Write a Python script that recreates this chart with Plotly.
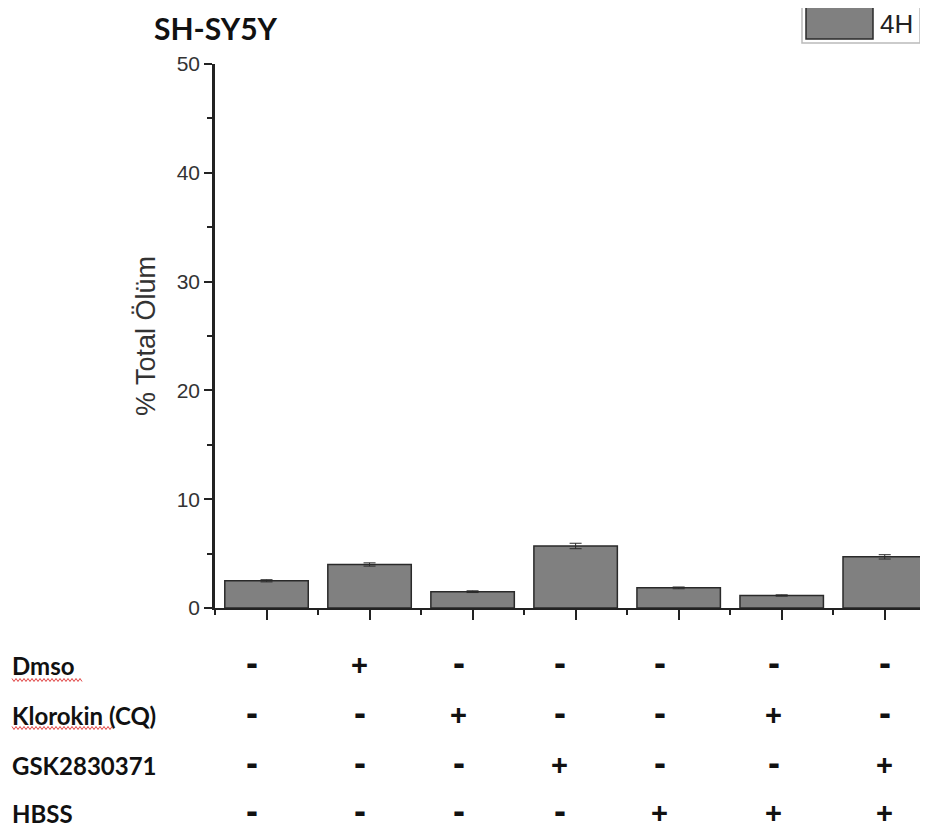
import plotly.graph_objects as go

# ---- data ----
categories = [0, 1, 2, 3, 4, 5, 6]
values_4h = [2.5, 4.0, 1.5, 5.7, 1.85, 1.15, 4.7]
errors_4h = [0.10, 0.15, 0.08, 0.25, 0.08, 0.06, 0.20]
series_name = "4H"
row_labels = ["Dmso", "Klorokin (CQ)", "GSK2830371", "HBSS"]
treatments = [
    ["-", "+", "-", "-", "-", "-", "-"],
    ["-", "-", "+", "-", "-", "+", "-"],
    ["-", "-", "-", "+", "-", "-", "+"],
    ["-", "-", "-", "-", "+", "+", "+"],
]
y_ticks = [0, 10, 20, 30, 40, 50]

# ---- layout helpers (page pixel geometry; page body has an 8px margin) ----
OFF = 8
W, H = 928 - OFF, 830 - OFF
L, R, T = 215 - OFF, 0, 64 - OFF
B = H - (608 - OFF)
pw, ph = W - L - R, H - T - B


def px_x(p):
    return (p - OFF - L) / pw


def px_y(p):
    return (H - B - (p - OFF)) / ph


fig = go.Figure()
fig.add_trace(go.Bar(
    x=categories, y=values_4h, name=series_name, width=0.81,
    marker=dict(color="#808080", line=dict(color="#2a2a2a", width=1.5)),
    error_y=dict(type="data", array=errors_4h, visible=True,
                 color="#2a2a2a", thickness=1, width=6),
    showlegend=False,
))

fig.update_layout(
    width=W, height=H,
    margin=dict(l=L, r=R, t=T, b=B, pad=0),
    plot_bgcolor="white", paper_bgcolor="white",
    font=dict(family="Liberation Sans, Arial", color="#222"),
)
fig.update_xaxes(
    range=[-0.5, 6.42], tickvals=categories, ticktext=[""] * len(categories),
    ticks="outside", ticklen=10, tickwidth=2, tickcolor="#222",
    showline=True, linecolor="#222", linewidth=2, showgrid=False, zeroline=False,
    minor=dict(ticks="outside", tick0=0.5, dtick=1, ticklen=5, tickwidth=2, tickcolor="#222"),
)
fig.update_yaxes(
    range=[0, 50], tickvals=y_ticks,
    ticks="outside", ticklen=8, tickwidth=1.5, tickcolor="#222",
    tickfont=dict(size=21, color="#333"),
    showline=True, linecolor="#222", linewidth=2.5, showgrid=False, zeroline=False,
    minor=dict(ticks="outside", dtick=5, ticklen=5, tickwidth=1.5, tickcolor="#222"),
    title=dict(text="% Total Ölüm", font=dict(size=27, color="#333"), standoff=14),
)

# title
fig.add_annotation(text="<b>SH-SY5Y</b>", xref="paper", yref="paper",
                   x=px_x(152), y=px_y(28), xanchor="left", yanchor="middle",
                   showarrow=False, font=dict(family="Lato", size=30, color="#111"))

# legend (drawn box)
fig.add_shape(type="rect", xref="paper", yref="paper",
              x0=px_x(802), x1=px_x(920), y0=px_y(43), y1=px_y(4),
              line=dict(color="#bbbbbb", width=1.5), fillcolor="white")
fig.add_shape(type="rect", xref="paper", yref="paper",
              x0=px_x(806), x1=px_x(873), y0=px_y(39), y1=px_y(7),
              line=dict(color="#2a2a2a", width=1.5), fillcolor="#808080")
fig.add_annotation(text=series_name, xref="paper", yref="paper",
                   x=px_x(878), y=px_y(24), xanchor="left", yanchor="middle",
                   showarrow=False, font=dict(family="Liberation Sans, Arial", size=26, color="#222"))

# treatment table
row_py = [665, 715, 765, 813]
col_shift = [-15, -10, -14, -16, -19, -8, 0]
for r, (lab, signs) in enumerate(zip(row_labels, treatments)):
    fig.add_annotation(text=f"<b>{lab}</b>", xref="paper", yref="paper",
                       x=px_x(10), y=px_y(row_py[r]), xanchor="left", yanchor="middle",
                       showarrow=False, font=dict(family="Lato", size=24, color="#111"))
    for c, s in zip(categories, signs):
        fig.add_annotation(text=f"<b>{s}</b>", xref="x", yref="paper",
                           x=c, y=px_y(row_py[r]), xanchor="center", yanchor="middle",
                           xshift=col_shift[c], yshift=(3 if s == "-" else 0),
                           showarrow=False,
                           font=dict(family="Liberation Sans, Arial",
                                     size=(36 if s == "-" else 29), color="#111"))


# spell-check squiggles under the first two row labels
def squiggle(x0, x1, y):
    pts = []
    x, up = x0, True
    while x <= x1:
        pts.append((px_x(x), px_y(y - 1.5 if up else y + 1.5)))
        x += 2
        up = not up
    return "M " + " L ".join(f"{a:.5f},{b:.5f}" for a, b in pts)


for (sx0, sx1, sy) in [(12, 82, 680), (12, 112, 728)]:
    fig.add_shape(type="path", xref="paper", yref="paper",
                  path=squiggle(sx0, sx1, sy),
                  line=dict(color="#e04040", width=1))

fig.write_html("out.html")
